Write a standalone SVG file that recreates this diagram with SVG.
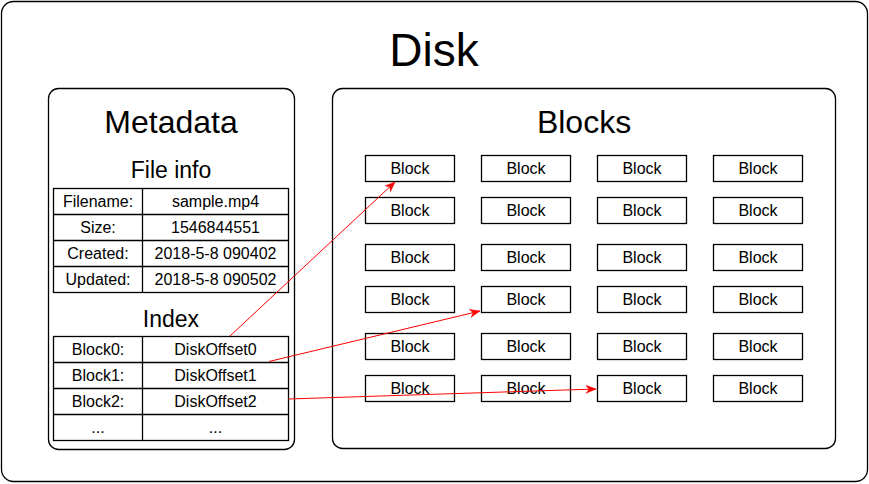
<svg xmlns="http://www.w3.org/2000/svg" width="869" height="484" viewBox="0 0 869 484">
<style>
.box{fill:#fff;stroke:#000;stroke-width:1.3}
.cell{fill:none;stroke:#000;stroke-width:1.3}
.t{font-family:"Liberation Sans",Arial,sans-serif;fill:#000;text-anchor:middle}
.s{font-size:16px}
.h{font-size:32px}
.m{font-size:23px}
.arr{stroke:#ff0000;stroke-width:1;fill:none;marker-end:url(#ah)}
</style>
<defs>
<marker id="ah" markerUnits="userSpaceOnUse" markerWidth="12" markerHeight="10" refX="10" refY="4" orient="auto" viewBox="0 0 12 10">
<path d="M0,0 L10,4 L0,8 L3,4 Z" fill="#ff0000" stroke="#ff0000" stroke-width="0.5"/>
</marker>
</defs>
<rect width="869" height="484" fill="#fff"/>
<g id="disk">
<rect class="box" x="1.5" y="1.5" width="866" height="480" rx="12"/>
<text class="t" x="434" y="66" font-size="46">Disk</text>
</g>
<g id="metadata">
<rect class="box" x="48.5" y="88.5" width="246" height="361" rx="10"/>
<text class="t h" x="171" y="133">Metadata</text>
<text class="t m" x="171" y="177.5">File info</text>
<g id="fileinfo">
<rect class="cell" x="53.5" y="188.5" width="235" height="104"/>
<line class="cell" x1="142.5" y1="188.5" x2="142.5" y2="292.5"/>
<line class="cell" x1="53.5" y1="214.5" x2="288.5" y2="214.5"/>
<line class="cell" x1="53.5" y1="240.5" x2="288.5" y2="240.5"/>
<line class="cell" x1="53.5" y1="266.5" x2="288.5" y2="266.5"/>
<text class="t s" x="98" y="207">Filename:</text>
<text class="t s" x="215.5" y="207">sample.mp4</text>
<text class="t s" x="98" y="233">Size:</text>
<text class="t s" x="215.5" y="233">1546844551</text>
<text class="t s" x="98" y="259">Created:</text>
<text class="t s" x="215.5" y="259">2018-5-8 090402</text>
<text class="t s" x="98" y="285">Updated:</text>
<text class="t s" x="215.5" y="285">2018-5-8 090502</text>
</g>
<text class="t m" x="171" y="327">Index</text>
<g id="index">
<rect class="cell" x="53.5" y="336.5" width="235" height="104"/>
<line class="cell" x1="142.5" y1="336.5" x2="142.5" y2="440.5"/>
<line class="cell" x1="53.5" y1="362.5" x2="288.5" y2="362.5"/>
<line class="cell" x1="53.5" y1="388.5" x2="288.5" y2="388.5"/>
<line class="cell" x1="53.5" y1="414.5" x2="288.5" y2="414.5"/>
<text class="t s" x="98" y="355">Block0:</text>
<text class="t s" x="215.5" y="355">DiskOffset0</text>
<text class="t s" x="98" y="381">Block1:</text>
<text class="t s" x="215.5" y="381">DiskOffset1</text>
<text class="t s" x="98" y="407">Block2:</text>
<text class="t s" x="215.5" y="407">DiskOffset2</text>
<text class="t s" x="98" y="433">...</text>
<text class="t s" x="215.5" y="433">...</text>
</g>
</g>
<g id="blocks">
<rect class="box" x="332.5" y="88.5" width="503" height="360" rx="10"/>
<text class="t h" x="584" y="133">Blocks</text>
</g>
<g id="block-grid">
<g id="b-0-0"><rect class="cell" x="365.5" y="155.5" width="89" height="26"/><text class="t s" x="410" y="174">Block</text></g>
<g id="b-0-1"><rect class="cell" x="481.5" y="155.5" width="89" height="26"/><text class="t s" x="526" y="174">Block</text></g>
<g id="b-0-2"><rect class="cell" x="597.5" y="155.5" width="89" height="26"/><text class="t s" x="642" y="174">Block</text></g>
<g id="b-0-3"><rect class="cell" x="713.5" y="155.5" width="89" height="26"/><text class="t s" x="758" y="174">Block</text></g>
<g id="b-1-0"><rect class="cell" x="365.5" y="197.5" width="89" height="26"/><text class="t s" x="410" y="216">Block</text></g>
<g id="b-1-1"><rect class="cell" x="481.5" y="197.5" width="89" height="26"/><text class="t s" x="526" y="216">Block</text></g>
<g id="b-1-2"><rect class="cell" x="597.5" y="197.5" width="89" height="26"/><text class="t s" x="642" y="216">Block</text></g>
<g id="b-1-3"><rect class="cell" x="713.5" y="197.5" width="89" height="26"/><text class="t s" x="758" y="216">Block</text></g>
<g id="b-2-0"><rect class="cell" x="365.5" y="244.5" width="89" height="26"/><text class="t s" x="410" y="263">Block</text></g>
<g id="b-2-1"><rect class="cell" x="481.5" y="244.5" width="89" height="26"/><text class="t s" x="526" y="263">Block</text></g>
<g id="b-2-2"><rect class="cell" x="597.5" y="244.5" width="89" height="26"/><text class="t s" x="642" y="263">Block</text></g>
<g id="b-2-3"><rect class="cell" x="713.5" y="244.5" width="89" height="26"/><text class="t s" x="758" y="263">Block</text></g>
<g id="b-3-0"><rect class="cell" x="365.5" y="286.5" width="89" height="26"/><text class="t s" x="410" y="305">Block</text></g>
<g id="b-3-1"><rect class="cell" x="481.5" y="286.5" width="89" height="26"/><text class="t s" x="526" y="305">Block</text></g>
<g id="b-3-2"><rect class="cell" x="597.5" y="286.5" width="89" height="26"/><text class="t s" x="642" y="305">Block</text></g>
<g id="b-3-3"><rect class="cell" x="713.5" y="286.5" width="89" height="26"/><text class="t s" x="758" y="305">Block</text></g>
<g id="b-4-0"><rect class="cell" x="365.5" y="333.5" width="89" height="26"/><text class="t s" x="410" y="352">Block</text></g>
<g id="b-4-1"><rect class="cell" x="481.5" y="333.5" width="89" height="26"/><text class="t s" x="526" y="352">Block</text></g>
<g id="b-4-2"><rect class="cell" x="597.5" y="333.5" width="89" height="26"/><text class="t s" x="642" y="352">Block</text></g>
<g id="b-4-3"><rect class="cell" x="713.5" y="333.5" width="89" height="26"/><text class="t s" x="758" y="352">Block</text></g>
<g id="b-5-0"><rect class="cell" x="365.5" y="375.5" width="89" height="26"/><text class="t s" x="410" y="394">Block</text></g>
<g id="b-5-1"><rect class="cell" x="481.5" y="375.5" width="89" height="26"/><text class="t s" x="526" y="394">Block</text></g>
<g id="b-5-2"><rect class="cell" x="597.5" y="375.5" width="89" height="26"/><text class="t s" x="642" y="394">Block</text></g>
<g id="b-5-3"><rect class="cell" x="713.5" y="375.5" width="89" height="26"/><text class="t s" x="758" y="394">Block</text></g>
</g>
<g id="connectors">
<line class="arr" x1="230" y1="336" x2="395" y2="182"/>
<line class="arr" x1="269" y1="361.5" x2="480" y2="311"/>
<line class="arr" x1="288.5" y1="399" x2="596" y2="389"/>
</g>
</svg>
